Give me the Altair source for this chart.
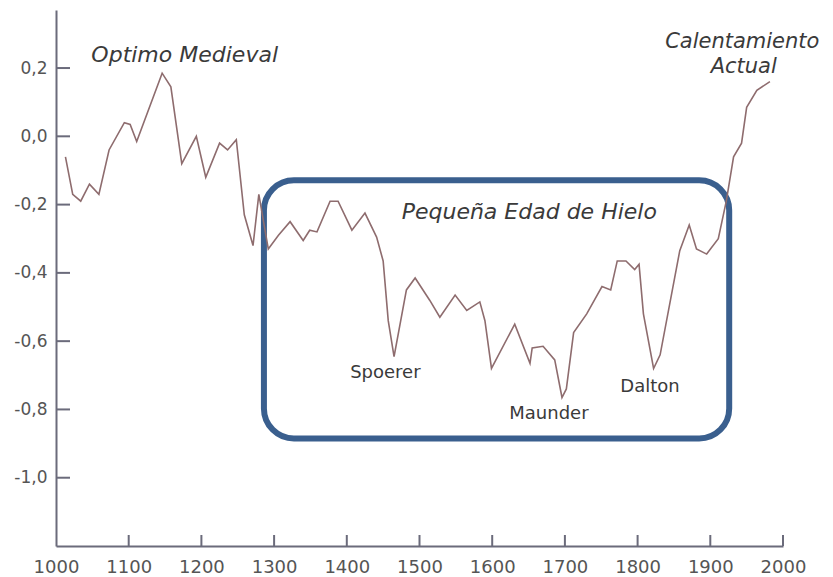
import altair as alt
import pandas as pd

# --- data -------------------------------------------------------------------
years = [1013, 1023, 1034, 1046, 1059, 1073, 1094, 1102, 1111, 1146, 1158, 1173,
         1193, 1206, 1225, 1236, 1248, 1259, 1271, 1279, 1292, 1306, 1322, 1340,
         1349, 1359, 1377, 1388, 1407, 1425, 1441, 1450, 1457, 1465, 1482, 1494,
         1514, 1528, 1549, 1565, 1583, 1590, 1599, 1631, 1652, 1655, 1670, 1686,
         1696, 1702, 1712, 1730, 1751, 1763, 1772, 1784, 1796, 1802, 1808, 1822,
         1831, 1858, 1871, 1881, 1895, 1911, 1922, 1932, 1943, 1950, 1964, 1982]
anomaly = [-0.06, -0.17, -0.19, -0.14, -0.17, -0.04, 0.04, 0.035, -0.015, 0.185, 0.145, -0.08,
           0.0, -0.12, -0.02, -0.04, -0.01, -0.23, -0.32, -0.17, -0.33, -0.29, -0.25, -0.305,
           -0.275, -0.28, -0.19, -0.19, -0.275, -0.225, -0.295, -0.365, -0.54, -0.645, -0.45, -0.415,
           -0.48, -0.53, -0.465, -0.51, -0.485, -0.54, -0.68, -0.55, -0.665, -0.62, -0.615, -0.655,
           -0.765, -0.74, -0.575, -0.52, -0.44, -0.45, -0.365, -0.365, -0.39, -0.375, -0.52, -0.68,
           -0.64, -0.335, -0.26, -0.33, -0.345, -0.30, -0.19, -0.06, -0.02, 0.085, 0.135, 0.16]

x_ticks = [1000, 1100, 1200, 1300, 1400, 1500, 1600, 1700, 1800, 1900, 2000]
y_ticks = [0.2, 0.0, -0.2, -0.4, -0.6, -0.8, -1.0]

# italic period labels
period_text = ["Optimo Medieval", "Calentamiento", "Actual", "Pequeña Edad de Hielo"]
period_year = [1177, 1944, 1946, 1651]
period_val = [0.238, 0.275, 0.203, -0.221]
period_size = [22, 21, 21, 22]

# solar minimum labels
minimum_text = ["Spoerer", "Maunder", "Dalton"]
minimum_year = [1453, 1678, 1817]
minimum_val = [-0.694, -0.812, -0.735]

# Little Ice Age frame
box_x = [1286]
box_x2 = [1926]
box_y = [-0.129]
box_y2 = [-0.885]

# --- chart ---------------------------------------------------------------------
series = pd.DataFrame({"year": years, "anomaly": anomaly})
periods = pd.DataFrame({"t": period_text, "year": period_year, "v": period_val,
                        "s": period_size})
minima = pd.DataFrame({"t": minimum_text, "year": minimum_year, "v": minimum_val})
box = pd.DataFrame({"x": box_x, "x2": box_x2, "y": box_y, "y2": box_y2})
xt = pd.DataFrame({"year": x_ticks[1:]})
yt = pd.DataFrame({"v": y_ticks})

FONT = "DejaVu Sans"
AXIS_COL = "#6b6b7b"

xscale = alt.Scale(domain=[1000, 2000], nice=False, zero=False)
yscale = alt.Scale(domain=[-1.2, 0.37], nice=False, zero=False)

xaxis = alt.Axis(values=x_ticks, format="d", ticks=False, grid=False, title=None,
                 domainColor=AXIS_COL, domainWidth=2, labelFont=FONT,
                 labelFontSize=18, labelColor="#555555", labelPadding=12,
                 labelFlush=False, labelOverlap=False)
yaxis = alt.Axis(values=y_ticks, ticks=False, grid=False, title=None,
                 domainColor=AXIS_COL, domainWidth=2, labelFont=FONT,
                 labelFontSize=17, labelColor="#555555", labelPadding=9,
                 labelFlush=False, labelOverlap=False,
                 labelExpr="replace(replace(format(datum.value, '.1f'), '.', ','), '\u2212', '-')")

line = alt.Chart(series).mark_line(color="#8e6c6e", strokeWidth=1.6).encode(
    x=alt.X("year:Q", scale=xscale, axis=xaxis),
    y=alt.Y("anomaly:Q", scale=yscale, axis=yaxis),
)

frame = alt.Chart(box).mark_rect(filled=False, stroke="#3a5f8e", strokeWidth=6,
                                 cornerRadius=30).encode(
    x=alt.X("x:Q", scale=xscale, axis=xaxis),
    x2="x2:Q",
    y=alt.Y("y:Q", scale=yscale, axis=yaxis),
    y2="y2:Q",
)

ytick_rules = alt.Chart(yt).mark_rule(color=AXIS_COL, strokeWidth=2).encode(
    y=alt.Y("v:Q", scale=yscale, axis=yaxis),
    x=alt.value(0), x2=alt.value(14),
)

xtick_rules = alt.Chart(xt).mark_rule(color=AXIS_COL, strokeWidth=2).encode(
    x=alt.X("year:Q", scale=xscale, axis=xaxis),
    y=alt.value(525), y2=alt.value(536),
)

period_labels = alt.Chart(periods).mark_text(font=FONT, fontStyle="italic",
                                             color="#3a3a3a", align="center",
                                             baseline="middle").encode(
    x=alt.X("year:Q", scale=xscale, axis=xaxis),
    y=alt.Y("v:Q", scale=yscale, axis=yaxis),
    text="t:N",
    size=alt.Size("s:Q", scale=None, legend=None),
)

minimum_labels = alt.Chart(minima).mark_text(font=FONT, fontSize=18, color="#3a3a3a",
                                             align="center", baseline="middle").encode(
    x=alt.X("year:Q", scale=xscale, axis=xaxis),
    y=alt.Y("v:Q", scale=yscale, axis=yaxis),
    text="t:N",
)

chart = alt.layer(frame, line, ytick_rules, xtick_rules, period_labels, minimum_labels).properties(
    width=727, height=536,
    padding={"left": 48, "top": 2, "right": 42, "bottom": 31},
    autosize="none",
    background="white",
).configure_view(stroke=None)

chart.save("out.html", embed_options={"renderer": "svg", "actions": False})
